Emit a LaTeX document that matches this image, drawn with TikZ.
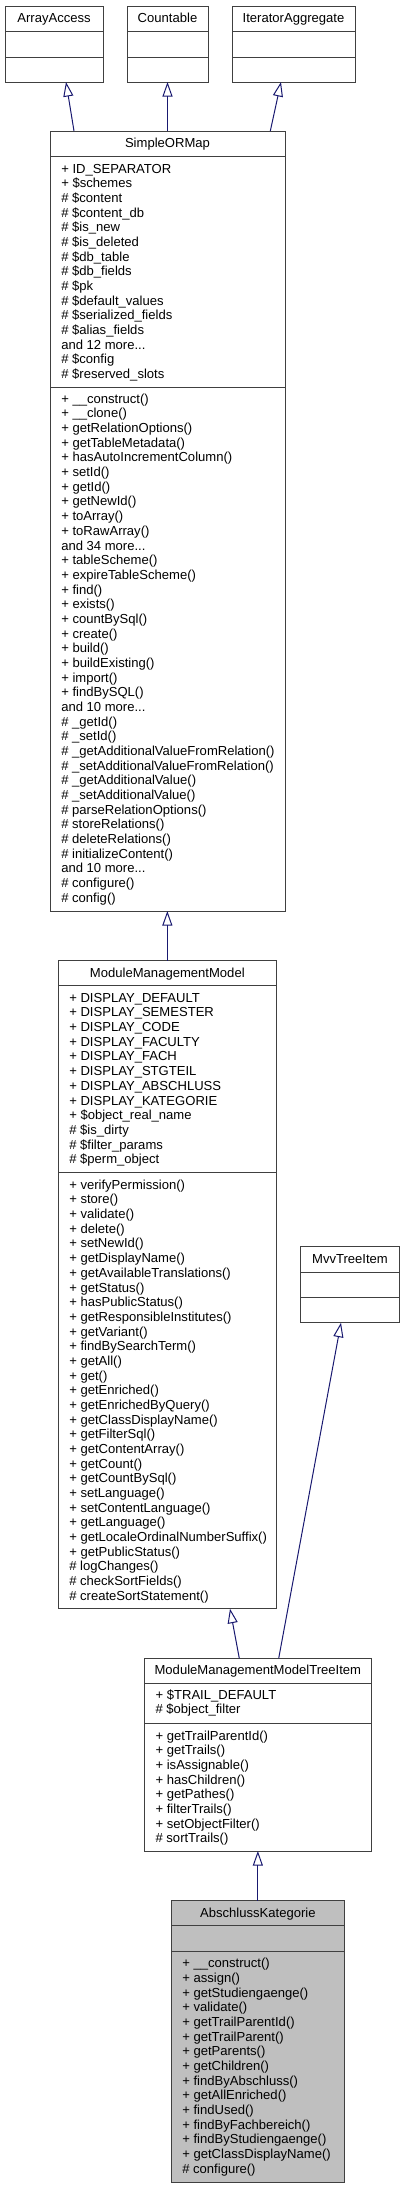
\documentclass[tikz,border=0pt]{standalone}
\usepackage{fontspec}
\setmainfont{Liberation Sans}
\usetikzlibrary{arrows.meta,calc}

\definecolor{boxgrey}{HTML}{404040}
\definecolor{edgeblue}{HTML}{191970}
\definecolor{fillgrey}{HTML}{BFBFBF}
\newcommand{\px}{0.75pt}
\newcommand{\andmore}[1]{and #1 more...}

\begin{document}
\begin{tikzpicture}[x=0.75pt,y=-0.75pt,
        classbox/.style={draw=boxgrey,line width=0.75pt,inner sep=0pt,outer sep=0pt,anchor=north west},
        sepline/.style={draw=boxgrey,line width=0.75pt},
        member/.style={anchor=base west,inner sep=0pt,font=\fontsize{9.8}{11}\selectfont},
        title/.style={anchor=base,inner sep=0pt,font=\fontsize{9.8}{11}\selectfont},
        inherit/.style={edgeblue,line width=0.75pt,-{Triangle[open,length=10.9pt,width=7.5pt]}}]
        \useasboundingbox (0,0) rectangle (405,2188);

        \coordinate (AAc) at (5,6);
        \coordinate (COc) at (127,6);
        \coordinate (IAc) at (232,6);
        \coordinate (SMc) at (50,131);
        \coordinate (MMc) at (58,960.7);
        \coordinate (MVc) at (300.7,1246.7);
        \coordinate (MTc) at (144.7,1658.3);
        \coordinate (AKc) at (171,1900.7);

        \node[classbox,minimum width=98*\px,minimum height=76*\px] (AA) at (AAc) {};
        \node[classbox,minimum width=81*\px,minimum height=76*\px] (CO) at (COc) {};
        \node[classbox,minimum width=123*\px,minimum height=76*\px] (IA) at (IAc) {};
        \node[classbox,minimum width=235*\px,minimum height=780*\px] (SM) at (SMc) {};
        \node[classbox,minimum width=218.7*\px,minimum height=648*\px] (MM) at (MMc) {};
        \node[classbox,minimum width=98.6*\px,minimum height=76*\px] (MV) at (MVc) {};
        \node[classbox,minimum width=226.3*\px,minimum height=192.7*\px] (MT) at (MTc) {};
        \node[classbox,fill=fillgrey,minimum width=173.7*\px,minimum height=281.6*\px] (AK) at (AKc) {};

        \foreach \b/\s/\t in {AA/25.5/51,CO/25.5/51,IA/25.5/51,SM/25/256.7,MM/25/211.3,MV/25.3/50.6,MT/25/65.4,AK/25/50.3}{
            \draw[sepline] ($(\b.north west)+(0,\s)$) -- ($(\b.north east)+(0,\s)$);
            \draw[sepline] ($(\b.north west)+(0,\t)$) -- ($(\b.north east)+(0,\t)$);
        }

        \node[title] (AA-t) at ($(AA.north)+(0,16.4)$) {ArrayAccess};
        \node[title] (CO-t) at ($(CO.north)+(0,16.4)$) {Countable};
        \node[title] (IA-t) at ($(IA.north)+(0,16.4)$) {IteratorAggregate};
        \node[title] (SM-t) at ($(SM.north)+(0,16.4)$) {SimpleORMap};
        \node[title] (MM-t) at ($(MM.north)+(0,16.6)$) {ModuleManagementModel};
        \node[title] (MV-t) at ($(MV.north)+(0,16.6)$) {MvvTreeItem};
        \node[title] (MT-t) at ($(MT.north)+(0,16)$) {ModuleManagementModelTreeItem};
        \node[title] (AK-t) at ($(AK.north)+(0,16.6)$) {AbschlussKategorie};

        \foreach \m [count=\i from 0] in {+ ID\_SEPARATOR,+ \$schemes,\# \$content,\# \$content\_db,\# \$is\_new,\# \$is\_deleted,\# \$db\_table,\# \$db\_fields,\# \$pk,\# \$default\_values,\# \$serialized\_fields,\# \$alias\_fields,\andmore{12},\# \$config,\# \$reserved\_slots}
            \node[member] (SM-a\i) at (61,{173+\i*14.67}) {\m};
        \foreach \m [count=\i from 0] in {+ \_\_construct(),+ \_\_clone(),+ getRelationOptions(),+ getTableMetadata(),+ hasAutoIncrementColumn(),+ setId(),+ getId(),+ getNewId(),+ toArray(),+ toRawArray(),\andmore{34},+ tableScheme(),+ expireTableScheme(),+ find(),+ exists(),+ countBySql(),+ create(),+ build(),+ buildExisting(),+ import(),+ findBySQL(),\andmore{10},\# \_getId(),\# \_setId(),\# \_getAdditionalValueFromRelation(),\# \_setAdditionalValueFromRelation(),\# \_getAdditionalValue(),\# \_setAdditionalValue(),\# parseRelationOptions(),\# storeRelations(),\# deleteRelations(),\# initializeContent(),\andmore{10},\# configure(),\# config()}
            \node[member] (SM-m\i) at (61,{403.3+\i*14.67}) {\m};

        \foreach \m [count=\i from 0] in {+ DISPLAY\_DEFAULT,+ DISPLAY\_SEMESTER,+ DISPLAY\_CODE,+ DISPLAY\_FACULTY,+ DISPLAY\_FACH,+ DISPLAY\_STGTEIL,+ DISPLAY\_ABSCHLUSS,+ DISPLAY\_KATEGORIE,+ \$object\_real\_name,\# \$is\_dirty,\# \$filter\_params,\# \$perm\_object}
            \node[member] (MM-a\i) at (69,{1002.3+\i*14.67}) {\m};
        \foreach \m [count=\i from 0] in {+ verifyPermission(),+ store(),+ validate(),+ delete(),+ setNewId(),+ getDisplayName(),+ getAvailableTranslations(),+ getStatus(),+ hasPublicStatus(),+ getResponsibleInstitutes(),+ getVariant(),+ findBySearchTerm(),+ getAll(),+ get(),+ getEnriched(),+ getEnrichedByQuery(),+ getClassDisplayName(),+ getFilterSql(),+ getContentArray(),+ getCount(),+ getCountBySql(),+ setLanguage(),+ setContentLanguage(),+ getLanguage(),+ getLocaleOrdinalNumberSuffix(),+ getPublicStatus(),\# logChanges(),\# checkSortFields(),\# createSortStatement()}
            \node[member] (MM-m\i) at (69,{1189.3+\i*14.67}) {\m};

        \foreach \m [count=\i from 0] in {+ \$TRAIL\_DEFAULT,\# \$object\_filter}
            \node[member] (MT-a\i) at (155.3,{1699.3+\i*14.67}) {\m};
        \foreach \m [count=\i from 0] in {+ getTrailParentId(),+ getTrails(),+ isAssignable(),+ hasChildren(),+ getPathes(),+ filterTrails(),+ setObjectFilter(),\# sortTrails()}
            \node[member] (MT-m\i) at (155.3,{1740+\i*14.67}) {\m};

        \foreach \m [count=\i from 0] in {+ \_\_construct(),+ assign(),+ getStudiengaenge(),+ validate(),+ getTrailParentId(),+ getTrailParent(),+ getParents(),+ getChildren(),+ findByAbschluss(),+ getAllEnriched(),+ findUsed(),+ findByFachbereich(),+ findByStudiengaenge(),+ getClassDisplayName(),\# configure()}
            \node[member] (AK-m\i) at (182,{1967.7+\i*14.67}) {\m};

        \draw[inherit] ($(SM.north west)+(24,0)$) -- ($(AA.south west)+(61,0)$);
        \draw[inherit] (SM.north) -- (CO.south);
        \draw[inherit] ($(SM.north west)+(220.3,0)$) -- ($(IA.south west)+(49,0)$);
        \draw[inherit] (MM.north) -- (MM.north |- SM.south);
        \draw[inherit] ($(MT.north west)+(94.6,0)$) -- ($(MM.south west)+(172,0)$);
        \draw[inherit] ($(MT.north west)+(134,0)$) -- ($(MV.south west)+(40.3,0)$);
        \draw[inherit] (AK.north) -- (AK.north |- MT.south);
    \end{tikzpicture}
\end{document}
